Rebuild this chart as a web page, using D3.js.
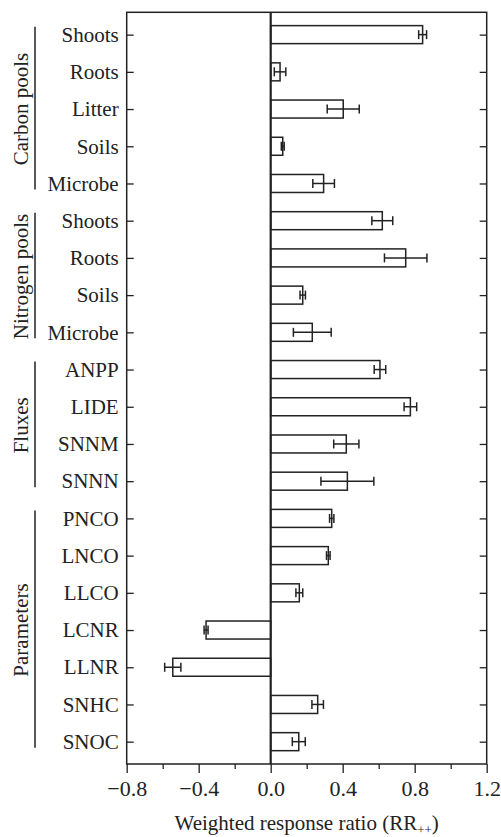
<!DOCTYPE html>
<html lang="en">
<head>
<meta charset="utf-8">
<script src="https://cdn.jsdelivr.net/npm/d3@7"></script>
<style>
  body { margin: 0; background: #fff; }
</style>
</head>
<body>
<div id="chart"></div>
<script>
// categories, top to bottom
var categories = ["Shoots", "Roots", "Litter", "Soils", "Microbe",
                  "Shoots", "Roots", "Soils", "Microbe",
                  "ANPP", "LIDE", "SNNM", "SNNN",
                  "PNCO", "LNCO", "LLCO", "LCNR", "LLNR", "SNHC", "SNOC"];
var groups = ["Carbon pools", "Nitrogen pools", "Fluxes", "Parameters"];
var groupSizes = [5, 4, 4, 7];
// weighted response ratio and its error
var values = [0.844, 0.052, 0.403, 0.067, 0.294,
              0.62, 0.75, 0.178, 0.231,
              0.607, 0.776, 0.42, 0.426,
              0.339, 0.32, 0.159, -0.359, -0.544, 0.261, 0.156];
var errors = [0.022, 0.032, 0.089, 0.008, 0.06,
              0.058, 0.118, 0.015, 0.105,
              0.032, 0.035, 0.07, 0.147,
              0.012, 0.01, 0.019, 0.011, 0.045, 0.032, 0.036];
var majorTicks = [-0.8, -0.4, 0.0, 0.4, 0.8, 1.2];
var minorTicks = [-0.6, -0.2, 0.2, 0.6, 1.0];

var width = 501, height = 837;
var plotLeft = 126.7, plotRight = 486.7, plotTop = 12.3, plotBottom = 764;
var serif = '"Liberation Serif", "Times New Roman", serif';

var svg = d3.select("#chart").append("svg")
    .attr("width", width)
    .attr("height", height);

var x = d3.scaleLinear().domain([-0.8, 1.2]).range([plotLeft, plotRight]);
var y = d3.scalePoint()
    .domain(d3.range(categories.length))
    .range([plotTop, plotBottom])
    .padding(0.6);

var barH = 18;
var ink = "#222";

// bars
svg.selectAll("rect.bar")
    .data(values)
    .enter()
    .append("rect")
    .attr("class", "bar")
    .attr("x", function(d) { return x(Math.min(0, d)); })
    .attr("y", function(d, i) { return y(i) - barH / 2; })
    .attr("width", function(d) { return Math.abs(x(d) - x(0)); })
    .attr("height", barH)
    .style("fill", "#fff")
    .style("stroke", ink)
    .style("stroke-width", 1.5);

// error bars
var err = svg.selectAll("g.err")
    .data(values)
    .enter()
    .append("g")
    .attr("class", "err")
    .style("stroke", ink)
    .style("stroke-width", 1.5);

err.append("line")
    .attr("x1", function(d, i) { return x(d - errors[i]); })
    .attr("x2", function(d, i) { return x(d + errors[i]); })
    .attr("y1", function(d, i) { return y(i); })
    .attr("y2", function(d, i) { return y(i); });
[-1, 1].forEach(function(s) {
    err.append("line")
        .attr("x1", function(d, i) { return x(d + s * errors[i]); })
        .attr("x2", function(d, i) { return x(d + s * errors[i]); })
        .attr("y1", function(d, i) { return y(i) - 4.5; })
        .attr("y2", function(d, i) { return y(i) + 4.5; });
});

// zero line
svg.append("line")
    .attr("x1", x(0)).attr("x2", x(0))
    .attr("y1", plotTop).attr("y2", plotBottom)
    .style("stroke", ink)
    .style("stroke-width", 2.2);

// left axis
var yAxis = d3.axisLeft(y)
    .tickSizeInner(-7)
    .tickSizeOuter(0)
    .tickPadding(8)
    .tickFormat(function(i) { return categories[i]; });
var gy = svg.append("g")
    .attr("transform", "translate(" + plotLeft + ",0)")
    .call(yAxis);
gy.selectAll("text").style("font-family", serif).style("font-size", "21px").attr("fill", ink);

// right axis (ticks only)
svg.append("g")
    .attr("transform", "translate(" + plotRight + ",0)")
    .call(d3.axisRight(y).tickSizeInner(-7).tickSizeOuter(0).tickFormat(""));

// bottom axis: minor then major ticks
svg.append("g")
    .attr("transform", "translate(0," + plotBottom + ")")
    .call(d3.axisBottom(x).tickValues(minorTicks).tickSize(5).tickFormat(""));
var gx = svg.append("g")
    .attr("transform", "translate(0," + plotBottom + ")")
    .call(d3.axisBottom(x).tickValues(majorTicks).tickSize(9).tickPadding(7)
        .tickFormat(d3.format(".1f")));
gx.selectAll("text").style("font-family", serif).style("font-size", "22px").attr("fill", ink);

svg.selectAll(".tick line").style("stroke", ink).style("stroke-width", 1.3);
svg.selectAll(".domain").remove();

// frame
svg.append("rect")
    .attr("x", plotLeft).attr("y", plotTop)
    .attr("width", plotRight - plotLeft).attr("height", plotBottom - plotTop)
    .style("fill", "none")
    .style("stroke", ink)
    .style("stroke-width", 1.5);

// axis title
var title = svg.append("text")
    .attr("x", (plotLeft + plotRight) / 2)
    .attr("y", 830)
    .attr("text-anchor", "middle")
    .attr("fill", ink)
    .style("font-family", serif)
    .style("font-size", "21px")
    .text("Weighted response ratio (RR");
title.append("tspan")
    .attr("dy", 4)
    .style("font-size", "13px")
    .text("++");
title.append("tspan")
    .attr("dy", -4)
    .text(")");

// group labels and brackets
var start = 0;
groups.forEach(function(g, k) {
    var first = start, last = start + groupSizes[k] - 1;
    var y0 = y(first) - 8, y1 = y(last) + 6;
    svg.append("line")
        .attr("x1", 35).attr("x2", 35)
        .attr("y1", y0).attr("y2", y1)
        .style("stroke", ink)
        .style("stroke-width", 1.5);
    svg.append("text")
        .attr("transform", "translate(28," + ((y(first) + y(last)) / 2) + ") rotate(-90)")
        .attr("text-anchor", "middle")
        .attr("fill", ink)
        .style("font-family", serif)
        .style("font-size", "21px")
        .text(g);
    start = last + 1;
});
</script>
</body>
</html>
